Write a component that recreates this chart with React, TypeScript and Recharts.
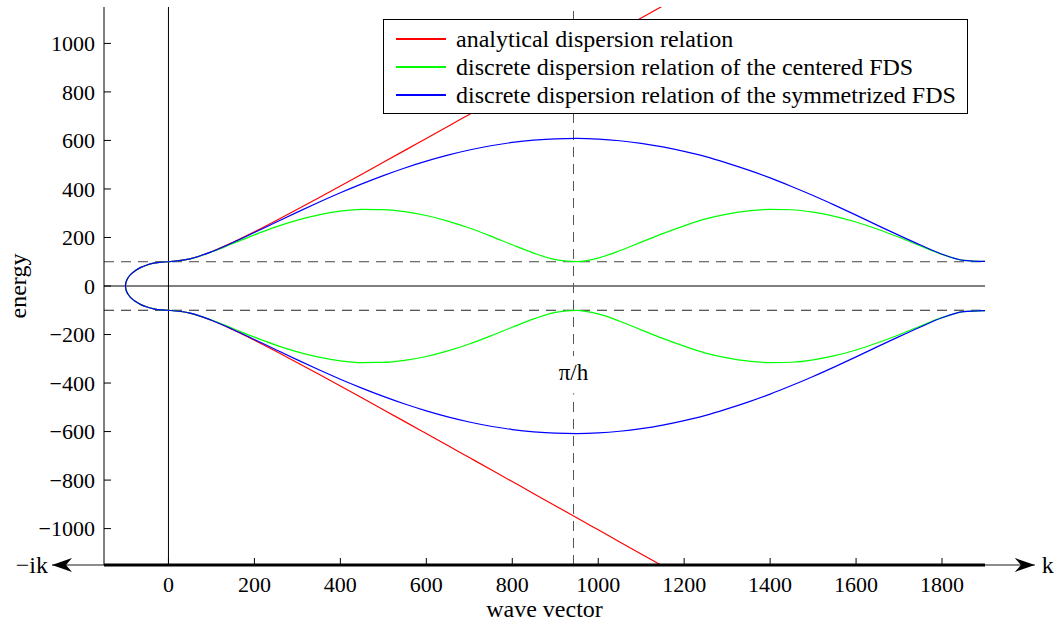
import React from 'react';
import { LineChart, Line, XAxis, YAxis, ReferenceLine, ReferenceDot } from 'recharts';

// wave vector samples (real k)
const K = [0, 50, 100, 150, 200, 250, 300, 350, 400, 450, 500, 550, 600, 650, 700, 750, 800, 850, 900, 950,
  1000, 1050, 1100, 1150, 1200, 1250, 1300, 1350, 1400, 1450, 1500, 1550, 1600, 1650, 1700, 1750, 1800, 1850, 1900];

// analytical dispersion relation (upper branch, leaves the plot past ~1150)
const RED = [100, 111.8, 141.4, 180.3, 223.6, 269.3, 316.2, 364.0, 412.3, 461.0, 509.9, 559.0, 608.3, 657.6, 707.1,
  756.6, 806.2, 855.9, 905.5, 955.2, 1005.0, 1054.8, 1104.5, 1154.3, 1204.2];

// centered FDS
const GREEN = [100, 111.7, 140.1, 175.2, 210.8, 243.5, 271.5, 293.4, 308.3, 315.5, 314.9, 306.5, 290.5, 267.6, 239.0,
  205.5, 169.8, 135.6, 108.6, 100.3, 115.2, 145.2, 180.8, 216.0, 248.1, 276.4, 296.3, 309.8, 315.9, 314.3, 304.6,
  287.3, 263.7, 234.1, 200.7, 164.9, 130.5, 105.9, 101.1];

// symmetrized FDS
const BLUE = [100, 111.8, 141.1, 179.0, 220.3, 262.6, 304.5, 345.3, 384.3, 421.0, 455.2, 486.6, 514.7, 539.5, 560.6,
  578.1, 591.7, 601.3, 606.8, 608.2, 605.6, 598.8, 588.0, 573.3, 554.7, 533.0, 506.3, 477.4, 445.5, 410.2, 372.8,
  333.2, 292.2, 249.9, 208.7, 168.7, 131.0, 105.9, 101.1];

// imaginary wave vector branch (-ik side), all three relations coincide here
const LOOP_K = [0, -17.4, -34.2, -50, -64.3, -76.6, -86.6, -94.0, -98.5, -100, -98.5, -94.0, -86.6, -76.6, -64.3, -50, -34.2, -17.4, 0];
const LOOP_E = [100, 98.5, 94.0, 86.6, 76.6, 64.3, 50, 34.2, 17.4, 0, -17.4, -34.2, -50, -64.3, -76.6, -86.6, -94.0, -98.5, -100];

const X_TICKS = [0, 200, 400, 600, 800, 1000, 1200, 1400, 1600, 1800];
const Y_TICKS = [-1000, -800, -600, -400, -200, 0, 200, 400, 600, 800, 1000];
const PI_H = 942.5;
const MASS = 100;

const LEGEND = [
  { name: 'analytical dispersion relation', color: '#ff0000' },
  { name: 'discrete dispersion relation of the centered FDS', color: '#00ff00' },
  { name: 'discrete dispersion relation of the symmetrized FDS', color: '#0000ff' },
];

const FONT = '"Liberation Serif", "Times New Roman", serif';

const upper = K.map((k, i) => ({ k, red: RED[i] ?? null, green: GREEN[i], blue: BLUE[i] }));
const lower = K.map((k, i) => ({ k, red: RED[i] != null ? -RED[i] : null, green: -GREEN[i], blue: -BLUE[i] }));
const loop = LOOP_K.map((k, i) => ({ k, e: LOOP_E[i] }));

const minus = (v: number) => String(v).replace('-', '\u2212');

const tickStyle = { fontSize: 22, fill: '#000', fontFamily: FONT };

const EnergyLabel = (props: any) => {
  const vb = props.viewBox || { x: 44, y: 7, width: 60, height: 558 };
  const x = vb.x - 26;
  const y = vb.y + vb.height / 2;
  return (
    <text x={x} y={y} transform={`rotate(-90, ${x}, ${y})`} textAnchor="middle" dominantBaseline="central"
      fontFamily={FONT} fontSize={24} fill="#000">energy</text>
  );
};

const WaveLabel = (props: any) => {
  const vb = props.viewBox || { x: 104, y: 565, width: 881, height: 40 };
  return (
    <text x={vb.x + vb.width / 2} y={vb.y + 52} textAnchor="middle"
      fontFamily={FONT} fontSize={24} fill="#000">wave vector</text>
  );
};

// arrowheads and -ik / k labels at both ends of the bottom axis
const ArrowEnds = (props: any) => {
  const vb = props.viewBox;
  if (!vb) return null;
  const x1 = vb.x;
  const x2 = vb.x + vb.width;
  const y = vb.y;
  return (
    <g>
      <path d={`M${x1},${y} L${x1 + 20},${y - 7} L${x1 + 14},${y} L${x1 + 20},${y + 7} Z`} fill="#000" />
      <path d={`M${x2},${y} L${x2 - 20},${y - 7} L${x2 - 14},${y} L${x2 - 20},${y + 7} Z`} fill="#000" />
      <text x={x1 - 4} y={y} textAnchor="end" dominantBaseline="central" fontFamily={FONT} fontSize={24} fill="#000">{'\u2212ik'}</text>
      <text x={x2 + 7} y={y} textAnchor="start" dominantBaseline="central" fontFamily={FONT} fontSize={24} fill="#000">k</text>
    </g>
  );
};

const PiLabel = (props: any) => {
  const vb = props.viewBox;
  if (!vb) return null;
  const cx = vb.x + (vb.width || 0) / 2;
  const cy = vb.y + (vb.height || 0) / 2;
  return (
    <g>
      <rect x={cx - 24} y={cy - 15} width={48} height={43} fill="#fff" />
      <circle cx={cx} cy={cy + 23} r={0.8} fill="#888" />
      <text x={cx} y={cy + 2} textAnchor="middle" dominantBaseline="central" fontFamily={FONT} fontSize={23} fill="#000">{'\u03c0/h'}</text>
    </g>
  );
};

const Legend = () => (
  <div style={{
    position: 'absolute', left: 383, top: 19, width: 583, height: 93, border: '1px solid #000', background: '#fff',
    fontFamily: FONT, fontSize: 24, color: '#000',
  }}>
    {LEGEND.map((l, i) => (
      <React.Fragment key={l.name}>
        <div style={{ position: 'absolute', left: 12, top: 18 + i * 28, width: 50, height: 1.5, backgroundColor: l.color }} />
        <div style={{ position: 'absolute', left: 72, top: 5 + i * 28, height: 28, lineHeight: '28px', whiteSpace: 'nowrap' }}>{l.name}</div>
      </React.Fragment>
    ))}
  </div>
);

export default function App() {
  return (
    <div style={{ position: 'absolute', left: 0, top: 0, width: 1062, height: 621, background: '#fff' }}>
      <LineChart width={1062} height={621} data={upper} margin={{ top: 7, right: 77, bottom: 16, left: 44 }}>
        <XAxis dataKey="k" type="number" domain={[-150, 1900]} allowDataOverflow ticks={X_TICKS}
          tickSize={-7} tickMargin={18} tick={tickStyle} height={40}
          axisLine={{ stroke: '#000', strokeWidth: 3 }} tickLine={{ stroke: '#000' }}
          label={<WaveLabel />} />
        <XAxis xAxisId="top" orientation="top" dataKey="k" type="number" domain={[-150, 1900]} allowDataOverflow
          ticks={X_TICKS} tickSize={-7} tick={false} height={0}
          axisLine={{ stroke: '#000' }} tickLine={{ stroke: '#000' }} />
        <YAxis type="number" domain={[-1150, 1150]} allowDataOverflow ticks={Y_TICKS} width={60}
          tickSize={-7} tickMargin={16} tick={tickStyle} tickFormatter={minus}
          axisLine={{ stroke: '#000' }} tickLine={{ stroke: '#000' }}
          label={<EnergyLabel />} />
        <YAxis yAxisId="right" orientation="right" type="number" domain={[-1150, 1150]} allowDataOverflow
          ticks={Y_TICKS} width={0} tickSize={-7} tick={false}
          axisLine={{ stroke: '#000' }} tickLine={{ stroke: '#000' }} />

        <ReferenceLine y={0} stroke="#000" strokeWidth={1} />
        <ReferenceLine x={0} stroke="#000" strokeWidth={1} />
        <ReferenceLine y={MASS} stroke="#444" strokeDasharray="10 7" />
        <ReferenceLine y={-MASS} stroke="#222" strokeDasharray="10 7" />
        <ReferenceLine x={PI_H} stroke="#555" strokeDasharray="10 7" />

        <Line data={upper} dataKey="red" type="monotone" stroke="#ff0000" strokeWidth={1.2} dot={false} isAnimationActive={false} />
        <Line data={lower} dataKey="red" type="monotone" stroke="#ff0000" strokeWidth={1.2} dot={false} isAnimationActive={false} legendType="none" />
        <Line data={loop} dataKey="e" type="natural" stroke="#ff0000" strokeWidth={1.2} dot={false} isAnimationActive={false} legendType="none" />
        <Line data={upper} dataKey="green" type="monotone" stroke="#00ff00" strokeWidth={1.2} dot={false} isAnimationActive={false} />
        <Line data={lower} dataKey="green" type="monotone" stroke="#00ff00" strokeWidth={1.2} dot={false} isAnimationActive={false} legendType="none" />
        <Line data={loop} dataKey="e" type="natural" stroke="#00ff00" strokeWidth={1.2} dot={false} isAnimationActive={false} legendType="none" />
        <Line data={upper} dataKey="blue" type="monotone" stroke="#0000ff" strokeWidth={1.2} dot={false} isAnimationActive={false} />
        <Line data={lower} dataKey="blue" type="monotone" stroke="#0000ff" strokeWidth={1.2} dot={false} isAnimationActive={false} legendType="none" />
        <Line data={loop} dataKey="e" type="natural" stroke="#0000ff" strokeWidth={1.2} dot={false} isAnimationActive={false} legendType="none" />

        <ReferenceLine segment={[{ x: -271, y: -1150 }, { x: 2016, y: -1150 }]} ifOverflow="visible"
          stroke="#666" strokeWidth={1.5} label={<ArrowEnds />} />
        <ReferenceDot x={PI_H} y={-350} r={0} ifOverflow="visible" fill="none" stroke="none" label={<PiLabel />} />
      </LineChart>
      <Legend />
    </div>
  );
}
